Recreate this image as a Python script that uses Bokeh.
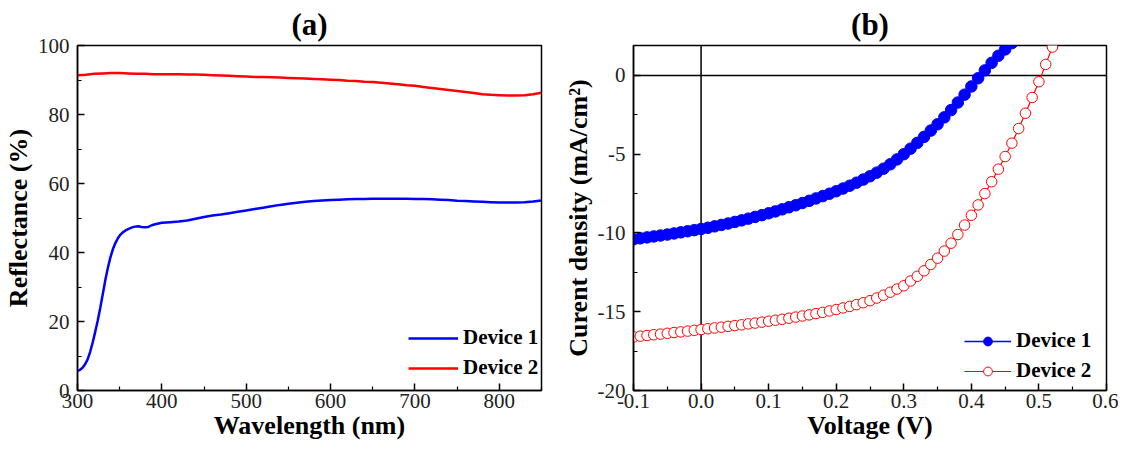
from bokeh.plotting import figure
from bokeh.models import FixedTicker, Span, Legend, LegendItem, NumeralTickFormatter, Range1d
from bokeh.layouts import row
from bokeh.embed import file_html
from bokeh.resources import INLINE

# ---------------- data: panel (a) reflectance ----------------
wl_dev1 = [300, 303, 306, 309, 312, 315, 318, 321, 324, 327, 330, 333, 336, 339, 342, 345, 348, 351,
           354, 357, 360, 364, 368, 372, 376, 380, 384, 388, 392, 396, 400, 410, 420, 430, 440, 450,
           460, 470, 480, 490, 500, 510, 520, 530, 540, 550, 560, 570, 580, 590, 600, 610, 620, 630,
           640, 650, 660, 670, 680, 690, 700, 710, 720, 730, 740, 750, 760, 770, 780, 790, 800, 810,
           820, 830, 840, 850]
refl_dev1 = [5.7, 6.0, 6.6, 7.6, 9.0, 11.2, 13.9, 17.0, 20.3, 24.0, 28.0, 32.0, 35.6, 38.6, 41.0, 42.8,
             44.2, 45.2, 45.9, 46.4, 46.8, 47.2, 47.5, 47.6, 47.4, 47.3, 47.4, 47.9, 48.2, 48.4, 48.6,
             48.8, 49.0, 49.3, 49.8, 50.3, 50.7, 51.0, 51.4, 51.8, 52.2, 52.6, 53.0, 53.4, 53.8, 54.1,
             54.4, 54.7, 54.9, 55.1, 55.2, 55.3, 55.4, 55.5, 55.5, 55.6, 55.6, 55.6, 55.6, 55.6, 55.5,
             55.5, 55.4, 55.3, 55.2, 55.0, 54.9, 54.8, 54.7, 54.6, 54.5, 54.5, 54.5, 54.6, 54.8, 55.1]

wl_dev2 = [300, 310, 320, 330, 340, 350, 360, 370, 380, 390, 400, 410, 420, 430, 440, 450, 460, 470,
           480, 490, 500, 510, 520, 530, 540, 550, 560, 570, 580, 590, 600, 610, 620, 630, 640, 650,
           660, 670, 680, 690, 700, 710, 720, 730, 740, 750, 760, 770, 780, 790, 800, 810, 820, 830,
           840, 850]
refl_dev2 = [91.4, 91.5, 91.8, 91.9, 92.0, 92.0, 91.9, 91.8, 91.8, 91.7, 91.7, 91.7, 91.7, 91.6, 91.6,
             91.5, 91.4, 91.3, 91.2, 91.1, 91.0, 90.9, 90.9, 90.8, 90.7, 90.6, 90.5, 90.4, 90.3, 90.2,
             90.1, 90.0, 89.8, 89.7, 89.5, 89.4, 89.2, 89.0, 88.8, 88.5, 88.3, 88.0, 87.7, 87.4, 87.1,
             86.8, 86.5, 86.2, 85.9, 85.7, 85.6, 85.5, 85.5, 85.6, 85.9, 86.3]

# ---------------- data: panel (b) J-V ----------------
v_dev1 = [-0.10, -0.09, -0.08, -0.07, -0.06, -0.05, -0.04, -0.03, -0.02, -0.01,
          0.00, 0.01, 0.02, 0.03, 0.04, 0.05, 0.06, 0.07, 0.08, 0.09,
          0.10, 0.11, 0.12, 0.13, 0.14, 0.15, 0.16, 0.17, 0.18, 0.19,
          0.20, 0.21, 0.22, 0.23, 0.24, 0.25, 0.26, 0.27, 0.28, 0.29,
          0.30, 0.31, 0.32, 0.33, 0.34, 0.35, 0.36, 0.37, 0.38, 0.39,
          0.40, 0.41, 0.42, 0.43, 0.44, 0.45, 0.46]
j_dev1 = [-10.40, -10.34, -10.28, -10.22, -10.16, -10.10, -10.03, -9.96, -9.89, -9.82,
          -9.75, -9.67, -9.58, -9.49, -9.40, -9.30, -9.20, -9.09, -8.98, -8.87,
          -8.75, -8.63, -8.50, -8.37, -8.24, -8.10, -7.96, -7.81, -7.66, -7.51,
          -7.35, -7.18, -7.00, -6.81, -6.61, -6.40, -6.17, -5.92, -5.64, -5.33,
          -5.00, -4.65, -4.28, -3.90, -3.50, -3.10, -2.66, -2.20, -1.72, -1.22,
          -0.70, -0.18, 0.32, 0.80, 1.25, 1.65, 2.05]

v_dev2 = [-0.10, -0.09, -0.08, -0.07, -0.06, -0.05, -0.04, -0.03, -0.02, -0.01,
          0.00, 0.01, 0.02, 0.03, 0.04, 0.05, 0.06, 0.07, 0.08, 0.09,
          0.10, 0.11, 0.12, 0.13, 0.14, 0.15, 0.16, 0.17, 0.18, 0.19,
          0.20, 0.21, 0.22, 0.23, 0.24, 0.25, 0.26, 0.27, 0.28, 0.29,
          0.30, 0.31, 0.32, 0.33, 0.34, 0.35, 0.36, 0.37, 0.38, 0.39,
          0.40, 0.41, 0.42, 0.43, 0.44, 0.45, 0.46, 0.47, 0.48, 0.49,
          0.50, 0.51, 0.52]
j_dev2 = [-16.60, -16.55, -16.51, -16.46, -16.42, -16.37, -16.32, -16.28, -16.23, -16.18,
          -16.13, -16.08, -16.03, -15.98, -15.93, -15.88, -15.83, -15.77, -15.72, -15.66,
          -15.60, -15.54, -15.48, -15.41, -15.34, -15.27, -15.20, -15.12, -15.04, -14.95,
          -14.86, -14.76, -14.66, -14.55, -14.43, -14.30, -14.13, -13.95, -13.76, -13.56,
          -13.35, -13.05, -12.75, -12.40, -12.00, -11.60, -11.15, -10.65, -10.10, -9.50,
          -8.88, -8.22, -7.50, -6.75, -5.95, -5.15, -4.30, -3.37, -2.40, -1.40,
          -0.40, 0.70, 1.80]

x_ticks_a = [300, 400, 500, 600, 700, 800]
x_minor_a = [350, 450, 550, 650, 750, 850]
y_ticks_a = [0, 20, 40, 60, 80, 100]
y_minor_a = [10, 30, 50, 70, 90]
x_ticks_b = [-0.1, 0.0, 0.1, 0.2, 0.3, 0.4, 0.5, 0.6]
x_minor_b = [-0.05, 0.05, 0.15, 0.25, 0.35, 0.45, 0.55]
y_ticks_b = [-20, -15, -10, -5, 0]
y_minor_b = [-17.5, -12.5, -7.5, -2.5]

FONT = "Liberation Serif"
BLUE = "#0000ff"
RED = "#ff0000"


def style(p, title):
    p.title.text = title
    p.title.align = "center"
    p.title.text_font = FONT
    p.title.text_font_size = "31px"
    p.title.text_font_style = "bold"
    p.title.text_color = "black"
    p.title.standoff = 8
    p.xgrid.visible = False
    p.ygrid.visible = False
    p.outline_line_color = "black"
    p.outline_line_width = 1.5
    p.outline_line_alpha = 1.0
    p.background_fill_color = "white"
    p.border_fill_color = "white"
    for ax in (p.xaxis[0], p.yaxis[0]):
        ax.axis_line_color = "black"
        ax.axis_line_width = 1.5
        ax.major_tick_in = 7
        ax.major_tick_out = 0
        ax.minor_tick_in = 4
        ax.minor_tick_out = 0
        ax.major_tick_line_width = 1.5
        ax.minor_tick_line_width = 1.2
        ax.major_tick_line_color = "black"
        ax.minor_tick_line_color = "black"
        ax.major_label_text_font = FONT
        ax.major_label_text_font_size = "21px"
        ax.major_label_text_color = "#222222"
        ax.axis_label_text_font = FONT
        ax.axis_label_text_font_size = "26px"
        ax.axis_label_text_font_style = "bold"
        ax.axis_label_text_color = "black"
    p.xaxis[0].major_label_standoff = 3
    p.yaxis[0].major_label_standoff = 8
    p.xaxis[0].axis_label_standoff = 0
    p.yaxis[0].axis_label_standoff = 2


def make_legend(items, loc, gw):
    return Legend(items=items, location=loc, padding=0, margin=0, border_line_alpha=0,
                  background_fill_alpha=0, label_text_font=FONT, label_text_font_style="bold",
                  label_text_font_size="21px", label_text_color="black", glyph_width=gw,
                  glyph_height=22, label_height=22, spacing=5, label_standoff=5)


# ---------------- panel (a) ----------------
p1 = figure(width=552, height=444, output_backend="svg", toolbar_location=None,
            x_range=Range1d(300, 850), y_range=Range1d(0, 100),
            min_border_left=70, min_border_right=11, min_border_top=44, min_border_bottom=54)
style(p1, "(a)")
p1.xaxis.axis_label = "Wavelength (nm)"
p1.yaxis.axis_label = "Reflectance (%)"
p1.xaxis.ticker = FixedTicker(ticks=x_ticks_a, minor_ticks=x_minor_a)
p1.yaxis.ticker = FixedTicker(ticks=y_ticks_a, minor_ticks=y_minor_a)

l1 = p1.line(wl_dev1, refl_dev1, line_color=BLUE, line_width=2.5)
l2 = p1.line(wl_dev2, refl_dev2, line_color=RED, line_width=2.5)

p1.add_layout(make_legend([LegendItem(label="Device 1", renderers=[l1]),
                           LegendItem(label="Device 2", renderers=[l2])], (331, 10), 50))

# ---------------- panel (b) ----------------
p2 = figure(width=566, height=444, output_backend="svg", toolbar_location=None,
            x_range=Range1d(-0.1, 0.6), y_range=Range1d(-20, 1.9),
            min_border_left=81, min_border_right=12, min_border_top=44, min_border_bottom=54)
style(p2, "(b)")
p2.xaxis.axis_label = "Voltage (V)"
p2.yaxis.axis_label = "Curent density (mA/cm²)"
p2.xaxis.ticker = FixedTicker(ticks=x_ticks_b, minor_ticks=x_minor_b)
p2.yaxis.ticker = FixedTicker(ticks=y_ticks_b, minor_ticks=y_minor_b)
p2.xaxis.formatter = NumeralTickFormatter(format="0.0")
p2.yaxis.formatter = NumeralTickFormatter(format="0")

p2.add_layout(Span(location=0, dimension="width", line_color="black", line_width=1.5, level="underlay"))
p2.add_layout(Span(location=0, dimension="height", line_color="black", line_width=1.5, level="underlay"))

bl = p2.line(v_dev1, j_dev1, line_color=BLUE, line_width=1.5)
bs = p2.scatter(v_dev1, j_dev1, marker="circle", size=11.5, fill_color=BLUE, line_color=BLUE)
rl = p2.line(v_dev2, j_dev2, line_color=RED, line_width=1.2)
rs = p2.scatter(v_dev2, j_dev2, marker="circle", size=10.5, fill_color="white", line_color=RED,
                line_width=1)

p2.add_layout(make_legend([LegendItem(label="Device 1", renderers=[bl, bs]),
                           LegendItem(label="Device 2", renderers=[rl, rs])], (331, 7), 47))

layout = row(p1, p2)
open("out.html", "w").write(file_html(layout, INLINE))
